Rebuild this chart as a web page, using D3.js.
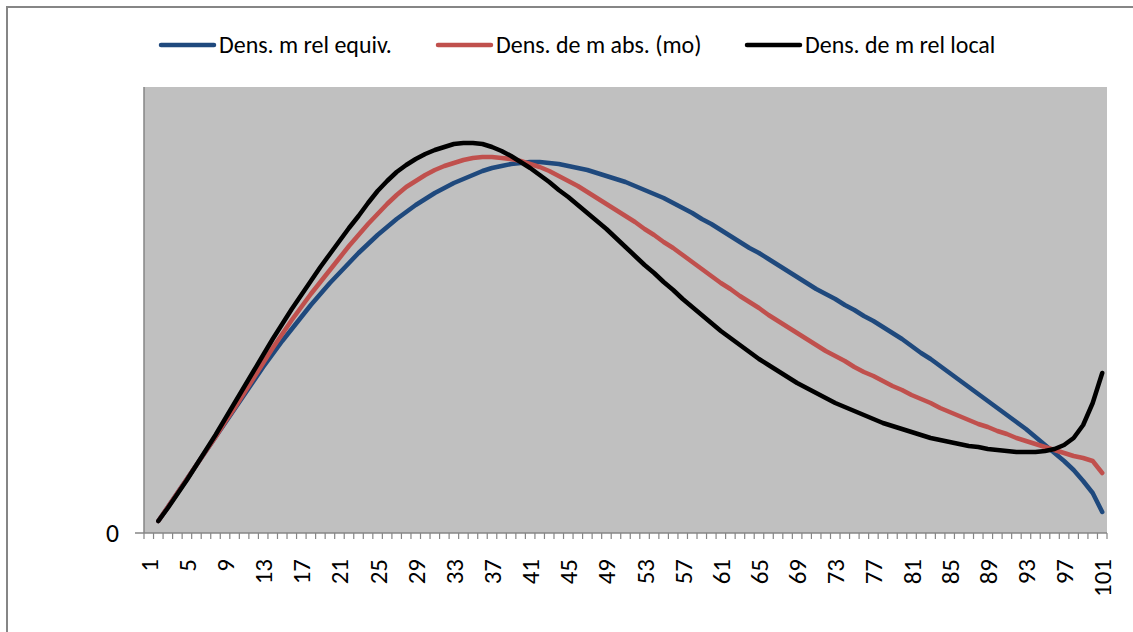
<!DOCTYPE html>
<html>
<head>
<meta charset="utf-8">
<script src="https://cdn.jsdelivr.net/npm/d3@7"></script>
<style>
  body { margin: 0; background: #ffffff; }
  text { font-family: Carlito, "Liberation Sans Narrow", "Liberation Sans", Arial, sans-serif; fill: #000000; }
</style>
</head>
<body>
<svg id="chart" width="1133" height="632"></svg>
<script>
// categories 1..101, every 4th one gets a label
var categories = d3.range(1, 102);
var tickLabels = categories.filter(c => c % 4 == 1);

var seriesNames = ["Dens. m rel equiv.", "Dens. de m abs. (mo)", "Dens. de m rel local"];
var seriesColors = ["#1F497D", "#C0504D", "#000000"];

// values (arbitrary units), first category is empty
var relEquiv = [null,
  12, 26, 40, 54, 68, 82, 96, 110, 124,
  138, 152, 166, 179, 192, 204, 216, 228, 239, 250,
  260, 270, 280, 289, 298, 306, 314, 321, 328, 334,
  340, 345, 350, 354, 358, 362, 365, 367, 369, 370,
  371, 371, 370, 369, 367, 365, 363, 360, 357, 354,
  351, 347, 343, 339, 335, 330, 325, 320, 314, 309,
  303, 297, 291, 285, 280, 274, 268, 262, 256, 250,
  244, 239, 234, 228, 223, 217, 212, 206, 200, 194,
  187, 180, 174, 167, 160, 153, 146, 139, 132, 125,
  118, 111, 104, 96, 88, 80, 72, 63, 52, 40, 21];

var absMo = [null,
  12, 26, 40, 54, 68, 82, 96, 111, 125,
  140, 155, 170, 185, 199, 213, 226, 239, 251, 263,
  275, 287, 298, 309, 319, 329, 338, 346, 352, 358,
  363, 367, 370, 373, 375, 376, 376, 375, 374, 372,
  369, 366, 362, 357, 352, 347, 341, 335, 329, 323,
  317, 311, 304, 298, 291, 285, 278, 271, 264, 257,
  250, 244, 237, 231, 225, 218, 212, 206, 200, 194,
  188, 182, 177, 172, 166, 161, 157, 152, 147, 143,
  138, 134, 130, 125, 121, 117, 113, 109, 106, 102,
  99, 95, 92, 89, 86, 83, 80, 77, 75, 72, 60];

var relLocal = [null,
  12, 25, 39, 53, 68, 83, 98, 114, 130,
  146, 162, 178, 194, 209, 224, 238, 252, 266, 279,
  292, 305, 317, 330, 342, 352, 361, 368, 374, 379,
  383, 386, 389, 390, 390, 389, 386, 382, 377, 371,
  365, 358, 351, 343, 336, 328, 320, 312, 304, 295,
  286, 277, 268, 260, 251, 243, 234, 226, 218, 210,
  202, 195, 188, 181, 174, 168, 162, 156, 150, 145,
  140, 135, 130, 126, 122, 118, 114, 110, 107, 104,
  101, 98, 95, 93, 91, 89, 87, 86, 84, 83,
  82, 81, 81, 81, 82, 84, 88, 95, 108, 130, 160];

var series = [relEquiv, absMo, relLocal];

var svg = d3.select("#chart");
var plot = { left: 144, right: 1107, top: 87, bottom: 533 };
var axisColor = "#868686";

// fit a text selection's font size so that its first node is `target` px wide
function fitWidth(sel, target) {
  var w = sel.node().getComputedTextLength();
  var size = parseFloat(sel.style("font-size"));
  sel.style("font-size", (size * target / w) + "px");
}

// outer chart border (runs off the right and bottom edges)
svg.append("rect")
  .attr("x", 7).attr("y", 7)
  .attr("width", 1160).attr("height", 660)
  .style("fill", "#ffffff")
  .style("stroke", axisColor)
  .style("stroke-width", 2);

// plot background
svg.append("rect")
  .attr("x", plot.left).attr("y", plot.top)
  .attr("width", plot.right - plot.left)
  .attr("height", plot.bottom - plot.top)
  .style("fill", "#C0C0C0");

const xScale = d3.scaleBand()
  .domain(categories)
  .range([plot.left, plot.right])
  .padding(0);
const yScale = d3.scaleLinear()
  .domain([0, 446])
  .range([plot.bottom, plot.top]);

// y axis: line, single tick at 0
svg.append("line")
  .attr("x1", plot.left).attr("x2", plot.left)
  .attr("y1", plot.top).attr("y2", plot.bottom)
  .style("stroke", axisColor).style("stroke-width", 1.5);
svg.append("line")
  .attr("x1", plot.left - 9).attr("x2", plot.left)
  .attr("y1", yScale(0)).attr("y2", yScale(0))
  .style("stroke", axisColor).style("stroke-width", 1.5);
var zero = svg.append("text")
  .attr("x", plot.left - 25)
  .attr("y", yScale(0))
  .attr("dy", "0.36em")
  .attr("text-anchor", "end")
  .style("font-size", "21px")
  .text("0");
fitWidth(zero, 13);

// x axis: tick at every category boundary
var bounds = categories.map(c => xScale(c)).concat([plot.right]);
var xAxis = svg.append("g");
xAxis.append("line")
  .attr("x1", plot.left).attr("x2", plot.right)
  .attr("y1", plot.bottom).attr("y2", plot.bottom)
  .style("stroke", axisColor).style("stroke-width", 1.5);
xAxis.selectAll("line.tick")
  .data(bounds)
  .enter()
  .append("line")
  .attr("class", "tick")
  .attr("x1", d => d).attr("x2", d => d)
  .attr("y1", plot.bottom).attr("y2", plot.bottom + 6)
  .style("stroke", axisColor).style("stroke-width", 1.2);
var tickText = xAxis.selectAll("text")
  .data(tickLabels.slice().reverse())
  .enter()
  .append("text")
  .attr("transform", d => "translate(" + (xScale(d) + xScale.bandwidth() / 2) + "," + (plot.bottom + 26) + ") rotate(-90)")
  .attr("text-anchor", "end")
  .attr("dy", "0.36em")
  .style("font-size", "21px")
  .text(d => d);
// first node is "101", about 38px long in the reference
fitWidth(tickText, 38);

// lines
const lineGenerator = d3.line()
  .defined(d => d != null)
  .x((d, i) => xScale(categories[i]) + xScale.bandwidth() / 2)
  .y(d => yScale(d));

svg.append("g")
  .selectAll("path")
  .data(series)
  .enter()
  .append("path")
  .attr("d", lineGenerator)
  .style("fill", "none")
  .style("stroke", (d, i) => seriesColors[i])
  .style("stroke-width", 4.5)
  .style("stroke-linejoin", "round")
  .style("stroke-linecap", "round");

// legend
var legendX = [161, 438, 747];
var legend = svg.append("g")
  .selectAll("g")
  .data(seriesNames)
  .enter()
  .append("g")
  .attr("transform", (d, i) => "translate(" + legendX[i] + ",45)");
legend.append("line")
  .attr("x1", 0).attr("x2", 53)
  .attr("y1", 0).attr("y2", 0)
  .style("stroke", (d, i) => seriesColors[i])
  .style("stroke-width", 4.5)
  .style("stroke-linecap", "round");
var legendText = legend.append("text")
  .attr("x", 58)
  .attr("y", 8)
  .style("font-size", "18px")
  .text(d => d);
fitWidth(legendText, 173);
</script>
</body>
</html>
